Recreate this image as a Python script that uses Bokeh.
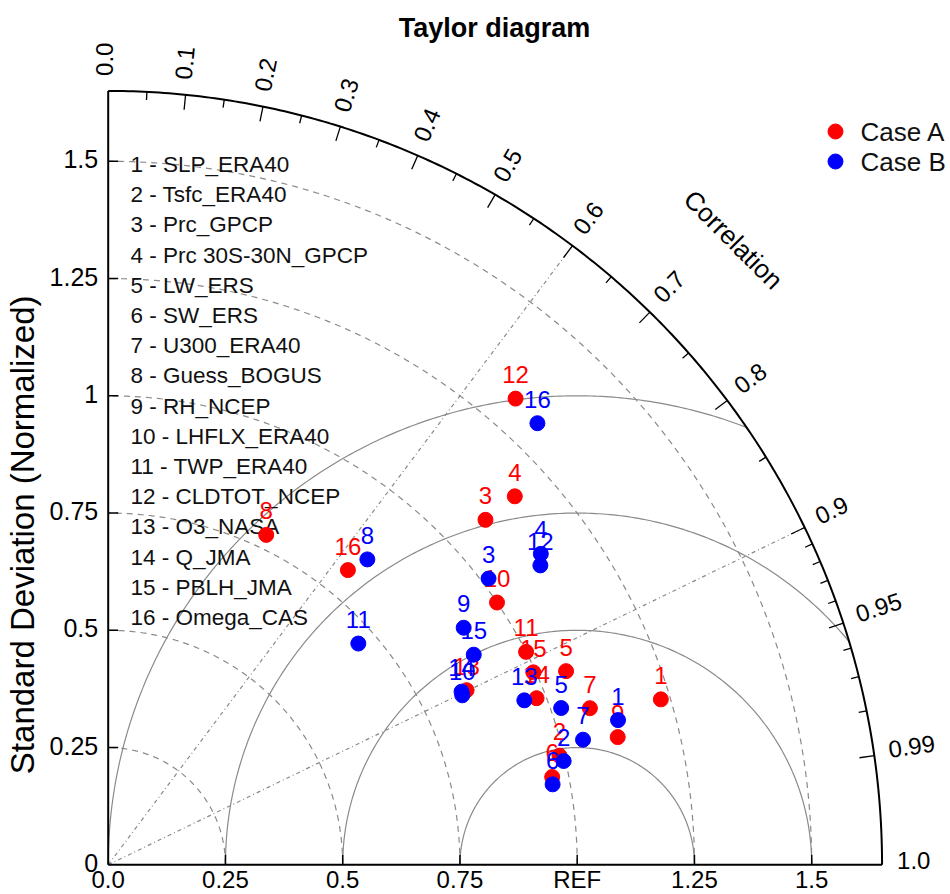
import numpy as np
from bokeh.plotting import figure
from bokeh.models import Range1d
from bokeh.core.properties import value
from bokeh.embed import file_html
from bokeh.resources import INLINE

# ---------------- data ----------------
var_names = ["SLP_ERA40", "Tsfc_ERA40", "Prc_GPCP", "Prc 30S-30N_GPCP", "LW_ERS",
             "SW_ERS", "U300_ERA40", "Guess_BOGUS", "RH_NCEP", "LHFLX_ERA40",
             "TWP_ERA40", "CLDTOT_NCEP", "O3_NASA", "Q_JMA", "PBLH_JMA", "Omega_CAS"]
case_names = ["Case A", "Case B"]
case_colors = ["#FF0000", "#0000FF"]

# normalized standard deviation (ratio) and correlation for each case
ratio_a = [1.23, 0.99, 1.09, 1.17, 1.06, 0.965, 1.08, 0.78, 1.12, 1.00, 1.00, 1.32, 0.85, 0.98, 0.995, 0.81]
cc_a    = [0.958, 0.972, 0.738, 0.741, 0.921, 0.981, 0.951, 0.432, 0.970, 0.829, 0.891, 0.658, 0.899, 0.932, 0.911, 0.631]
ratio_b = [1.13, 0.996, 1.015, 1.136, 1.022, 0.963, 1.047, 0.854, 0.911, 0.837, 0.712, 1.121, 0.954, 0.839, 0.899, 1.313]
cc_b    = [0.962, 0.975, 0.799, 0.812, 0.945, 0.984, 0.967, 0.647, 0.832, 0.902, 0.749, 0.822, 0.930, 0.898, 0.867, 0.697]

std_ticks = [0.0, 0.25, 0.5, 0.75, 1.0, 1.25, 1.5]
x_tick_labels = ["0.0", "0.25", "0.5", "0.75", "REF", "1.25", "1.5"]
y_tick_labels = ["0", "0.25", "0.5", "0.75", "1", "1.25", "1.5"]
corr_major = [0.0, 0.1, 0.2, 0.3, 0.4, 0.5, 0.6, 0.7, 0.8, 0.9, 0.95, 0.99, 1.0]
corr_major_text = ["0.0", "0.1", "0.2", "0.3", "0.4", "0.5", "0.6", "0.7", "0.8", "0.9", "0.95", "0.99", "1.0"]
corr_minor = [0.05, 0.15, 0.25, 0.35, 0.45, 0.55, 0.65, 0.75, 0.85, 0.91, 0.92, 0.93, 0.94, 0.96, 0.97, 0.98]
rms_radii = [0.25, 0.5, 0.75, 1.0]
std_arcs = [0.25, 0.5, 0.75, 1.0, 1.25, 1.5]
corr_span = [0.6, 0.9]
XY_MAX = 1.65

# ---------------- layout ----------------
W, H = 950, 894
PX = 469.0              # pixels per data unit
OX, OY = 107.7, 864.3   # canvas position of the origin
FONT = value("Liberation Sans")
GRID = "#8a8a8a"

p = figure(width=W, height=H,
           x_range=Range1d(-OX / PX, (W - OX) / PX),
           y_range=Range1d(-(H - OY) / PX, OY / PX),
           output_backend="svg", toolbar_location=None, min_border=0,
           x_axis_location=None, y_axis_location=None)
p.grid.visible = False
p.outline_line_color = None
p.background_fill_color = "white"

def px(v):
    return v / PX

# dashed std-dev arcs about origin
th = np.linspace(0, np.pi / 2, 240)
p.multi_line([list(r * np.cos(th)) for r in std_arcs],
             [list(r * np.sin(th)) for r in std_arcs],
             line_color=GRID, line_width=1.2, line_dash="6 5")

# solid RMS circles about REF, clipped to outer arc
xs, ys = [], []
for rho in rms_radii:
    cmax = (XY_MAX ** 2 - 1 - rho ** 2) / (2 * rho)
    phi0 = np.arccos(cmax) if cmax < 1 else 0.0
    ph = np.linspace(phi0, np.pi, 240)
    xs.append(list(1 + rho * np.cos(ph)))
    ys.append(list(rho * np.sin(ph)))
p.multi_line(xs, ys, line_color=GRID, line_width=1.2)

# radial correlation lines
p.multi_line([[0, XY_MAX * c] for c in corr_span],
             [[0, XY_MAX * np.sqrt(1 - c * c)] for c in corr_span],
             line_color=GRID, line_width=1.2, line_dash="4 3 1 3")

# axes and outer arc
p.line(list(XY_MAX * np.cos(th)), list(XY_MAX * np.sin(th)), line_color="black", line_width=2)
p.segment([0, 0], [0, 0], [XY_MAX, 0], [0, XY_MAX], line_color="black", line_width=2)

# std ticks
tk = [t for t in std_ticks if t > 0]
p.segment(tk, [0] * len(tk), tk, [px(10)] * len(tk), line_color="black", line_width=1.5)
p.segment([0] * len(tk), tk, [px(10)] * len(tk), tk, line_color="black", line_width=1.5)

# correlation ticks on outer arc
def arc_ticks(vals, length):
    a = np.arccos(np.array(vals))
    return (list(XY_MAX * np.cos(a)), list(XY_MAX * np.sin(a)),
            list((XY_MAX - px(length)) * np.cos(a)), list((XY_MAX - px(length)) * np.sin(a)))
mj = [c for c in corr_major if 0 < c < 1]
x0, y0, x1, y1 = arc_ticks(mj, 15)
p.segment(x0, y0, x1, y1, line_color="black", line_width=1.3)
x0, y0, x1, y1 = arc_ticks(corr_minor, 8)
p.segment(x0, y0, x1, y1, line_color="black", line_width=1.3)

# correlation labels
ang = np.arccos(np.array(corr_major))
rl = XY_MAX + px(15)
sh = px(4)
p.text(x=list(rl * np.cos(ang) - sh * np.sin(ang)), y=list(rl * np.sin(ang) + sh * np.cos(ang)),
       text=corr_major_text, angle=list(ang), text_align="left", text_baseline="middle",
       text_font=FONT, text_font_size="24px", text_color="black")
p.text(x=[1.885 * np.cos(np.pi / 4)], y=[1.885 * np.sin(np.pi / 4)], text=["Correlation"],
       angle=[-np.pi / 4], text_align="center", text_baseline="middle",
       text_font=FONT, text_font_size="26px", text_color="black")

# std tick labels
p.text(x=std_ticks, y=[px(-15)] * len(std_ticks), text=x_tick_labels,
       text_align="center", text_baseline="middle", text_font=FONT,
       text_font_size="24px", text_color="black")
p.text(x=[px(-10)] * len(std_ticks), y=[t + px(2) for t in std_ticks], text=y_tick_labels,
       text_align="right", text_baseline="middle", text_font=FONT,
       text_font_size="25px", text_color="black")

# axis label and title
p.text(x=[px(-85.7)], y=[px(330)], text=["Standard Deviation (Normalized)"], angle=[np.pi / 2],
       text_align="center", text_baseline="middle", text_font=FONT,
       text_font_size="33px", text_color="black")
p.text(x=[px(386.3)], y=[px(837.3)], text=["Taylor diagram"], text_align="center",
       text_baseline="middle", text_font=FONT, text_font_size="27px",
       text_font_style="bold", text_color="black")

# variable list
lab = [f"{i + 1} - {n}" for i, n in enumerate(var_names)]
p.text(x=[px(22.3)] * len(lab), y=[px(700.3) - i * px(30.2) for i in range(len(lab))], text=lab,
       text_align="left", text_baseline="middle", text_font=FONT,
       text_font_size="22.5px", text_color="#111111")

# data points
for ratio, cc, col in [(ratio_a, cc_a, case_colors[0]), (ratio_b, cc_b, case_colors[1])]:
    r = np.array(ratio)
    c = np.array(cc)
    X = r * c
    Y = r * np.sqrt(1 - c * c)
    p.scatter(list(X), list(Y), size=15, marker="circle", fill_color=col, line_color=col)
    p.text(x=list(X), y=list(Y + px(24)), text=[str(i + 1) for i in range(len(X))],
           text_align="center", text_baseline="middle", text_font=FONT,
           text_font_size="24px", text_color=col)

# case legend
leg_y = [px(733.3), px(703.3)]
p.scatter([px(727.3)] * 2, leg_y, size=15, marker="circle", fill_color=case_colors,
          line_color=case_colors)
p.text(x=[px(752.3)] * 2, y=leg_y, text=case_names, text_align="left", text_baseline="middle",
       text_font=FONT, text_font_size="26px", text_color="#111111")

open("out.html", "w").write(file_html(p, INLINE))
